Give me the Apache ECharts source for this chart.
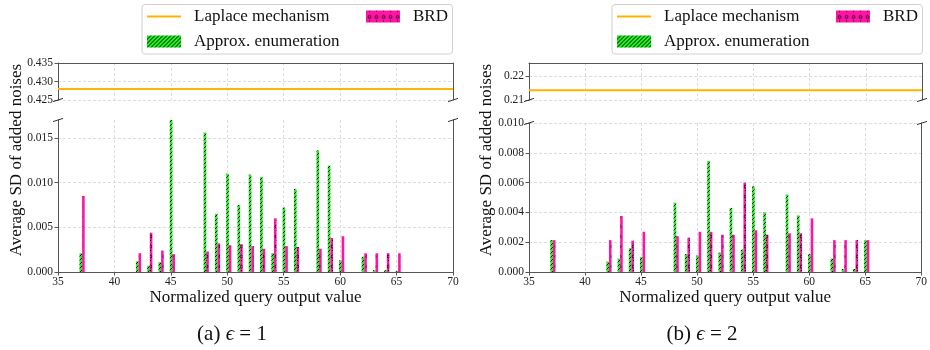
<!DOCTYPE html>
<html>
<head>
<meta charset="utf-8">
<script src="https://cdn.jsdelivr.net/npm/echarts@6/dist/echarts.min.js"></script>
<style>
  html, body { margin: 0; padding: 0; background: #fff; }
  #chart { width: 930px; height: 350px; }
</style>
</head>
<body>
<div id="chart"></div>
<script>
// Query output values (x positions of the bar pairs)
const queryValues = [37, 42, 43, 44, 45, 48, 49, 50, 51, 52, 53, 54, 55, 56, 58, 59, 60, 62, 63, 64, 65];

// epsilon = 1
const approxEps1 = [0.0021, 0.0012, 0.0007, 0.0011, 0.0170, 0.0156, 0.0065, 0.0110, 0.0075, 0.0109, 0.0106,
                    0.0021, 0.0072, 0.0093, 0.0136, 0.0119, 0.0013, 0.0017, 0.0002, 0.0002, 0.0001];
const brdEps1    = [0.0085, 0.0021, 0.0044, 0.0024, 0.0020, 0.0023, 0.0032, 0.0030, 0.0031, 0.0029, 0.0026,
                    0.0060, 0.0029, 0.0028, 0.0026, 0.0038, 0.0040, 0.0021, 0.0021, 0.0021, 0.0021];
const laplaceEps1 = 0.428;

// epsilon = 2
const approxEps2 = [0.00214, 0.0007, 0.0009, 0.0016, 0.0010, 0.00465, 0.0012, 0.0011, 0.00745, 0.0013, 0.0043,
                    0.0015, 0.00575, 0.0040, 0.0052, 0.0038, 0.0012, 0.0009, 0.0002, 0.0002, 0.00214];
const brdEps2    = [0.00214, 0.00214, 0.00375, 0.0021, 0.0027, 0.0024, 0.0023, 0.0027, 0.0027, 0.0025, 0.0025,
                    0.0060, 0.0028, 0.0025, 0.0026, 0.0026, 0.0036, 0.00214, 0.00214, 0.00214, 0.00214];
const laplaceEps2 = 0.214;

const xTicks = [35, 40, 45, 50, 55, 60, 65, 70];
const seriesNames = ['Laplace mechanism', 'Approx. enumeration', 'BRD'];
const captions = ['(a) {e|ϵ} = 1', '(b) {e|ϵ} = 2'];
const yTitle = 'Average SD of added noises';
const xTitle = 'Normalized query output value';

const FONT = '"Liberation Serif", "DejaVu Serif", serif';
const AXIS = '#555';
const GREEN = '#22ee22';
const PINK = '#ff14a6';
const ORANGE = '#ffb400';

// Hatched fills
function hatchFill() {
  const c = document.createElement('canvas');
  c.width = 4; c.height = 4;
  const g = c.getContext('2d');
  g.fillStyle = GREEN; g.fillRect(0, 0, 4, 4);
  g.strokeStyle = '#000'; g.lineWidth = 0.9;
  g.beginPath();
  g.moveTo(-1, 5); g.lineTo(5, -1);
  g.moveTo(-1, 1); g.lineTo(1, -1);
  g.moveTo(3, 5); g.lineTo(5, 3);
  g.stroke();
  return { image: c, repeat: 'repeat' };
}
function circleFill() {
  const c = document.createElement('canvas');
  c.width = 7; c.height = 10;
  const g = c.getContext('2d');
  g.fillStyle = PINK; g.fillRect(0, 0, 7, 10);
  g.strokeStyle = '#000'; g.lineWidth = 0.8;
  g.beginPath(); g.arc(3.5, 6.5, 1.4, 0, Math.PI * 2); g.stroke();
  g.fillStyle = '#000'; g.fillRect(3, 0, 1, 1);
  return { image: c, repeat: 'repeat' };
}
const greenFill = hatchFill();
const pinkFill = circleFill();

// Two panels per figure: upper (Laplace) and lower (bars)
// [min, max, interval, decimals, max is a tick]
const panels = [
  { left: 58, width: 395, upper: [0.425, 0.435, 0.005, 3, true], lower: [0, 0.017, 0.005, 3, false], lowerTop: 120,
    approx: approxEps1, brd: brdEps1, laplace: laplaceEps1, dx: 0 },
  { left: 529, width: 393, upper: [0.21, 0.2253, 0.01, 2, false], lower: [0, 0.010, 0.002, 3, true], lowerTop: 123,
    approx: approxEps2, brd: brdEps2, laplace: laplaceEps2, dx: 470 }
];
const UPPER_TOP = 63, UPPER_BOTTOM = 100, LOWER_BOTTOM = 272;

const grid = [], xAxis = [], yAxis = [], series = [], legend = [], title = [], graphic = [];

function barRenderer(offset, width, fill) {
  return function (params, api) {
    const x = api.value(0), v = api.value(1);
    const p0 = api.coord([x + offset - width / 2, v]);
    const p1 = api.coord([x + offset + width / 2, 0]);
    return { type: 'rect', shape: { x: p0[0], y: p0[1], width: p1[0] - p0[0], height: p1[1] - p0[1] },
             style: { fill: fill } };
  };
}

const splitLineStyle = { color: '#d4d4d4', type: [3, 2], width: 0.8 };
const axisLabel = { color: '#222', fontFamily: FONT, fontSize: 11.5 };

function leftYAxis(gridIndex, spec) {
  return { gridIndex, type: 'value', min: spec[0], max: spec[1], interval: spec[2],
    axisLine: { show: true, lineStyle: { color: AXIS } },
    axisTick: { show: true, length: 3.5, lineStyle: { color: AXIS } },
    axisLabel: Object.assign({ margin: 5, showMaxLabel: spec[4], formatter: v => v.toFixed(spec[3]) }, axisLabel),
    splitLine: { show: true, showMaxLine: spec[4], lineStyle: splitLineStyle } };
}
function rightSpine(gridIndex, spec) {
  return { gridIndex, type: 'value', position: 'right', min: spec[0], max: spec[1],
    axisLine: { show: true, lineStyle: { color: AXIS } }, axisTick: { show: false },
    axisLabel: { show: false }, splitLine: { show: false } };
}

panels.forEach((p, k) => {
  const gU = grid.length;
  grid.push({ left: p.left, width: p.width, top: UPPER_TOP, height: UPPER_BOTTOM - UPPER_TOP });
  grid.push({ left: p.left, width: p.width, top: p.lowerTop, height: LOWER_BOTTOM - p.lowerTop });
  const gL = gU + 1;

  // x axes
  const xU = xAxis.length;
  xAxis.push({ gridIndex: gU, type: 'value', position: 'top', min: 35, max: 70, interval: 5,
    axisLine: { show: true, onZero: false, lineStyle: { color: AXIS } }, axisTick: { show: false },
    axisLabel: { show: false }, splitLine: { show: true, lineStyle: splitLineStyle } });
  const xL = xAxis.length;
  xAxis.push({ gridIndex: gL, type: 'value', position: 'bottom', min: 35, max: 70, interval: 5,
    axisLine: { show: true, onZero: false, lineStyle: { color: AXIS } },
    axisTick: { show: true, length: 3.5, lineStyle: { color: AXIS } },
    axisLabel: Object.assign({ margin: 4, formatter: v => xTicks.includes(v) ? String(v) : '' }, axisLabel),
    splitLine: { show: true, lineStyle: splitLineStyle }, name: xTitle, nameLocation: 'middle', nameGap: 17,
    nameTextStyle: { fontFamily: FONT, fontSize: 17, color: '#111' } });

  // y axes (left with labels, right spine only)
  const yU = yAxis.length;
  yAxis.push(leftYAxis(gU, p.upper));
  yAxis.push(rightSpine(gU, p.upper));
  const yL = yAxis.length;
  yAxis.push(leftYAxis(gL, p.lower));
  yAxis.push(rightSpine(gL, p.lower));

  // Laplace mechanism: constant level across the whole range
  series.push({ name: seriesNames[0], type: 'line', xAxisIndex: xU, yAxisIndex: yU, symbol: 'none',
    silent: true, animation: false, lineStyle: { color: ORANGE, width: 2 }, itemStyle: { color: ORANGE },
    data: [[35, p.laplace], [70, p.laplace]] });

  // Bar pairs: approx. enumeration (left) and BRD (right)
  series.push({ name: seriesNames[1], type: 'custom', xAxisIndex: xL, yAxisIndex: yL, animation: false,
    clip: true, itemStyle: { color: greenFill },
    renderItem: barRenderer(0.02, 0.23, greenFill),
    data: queryValues.map((q, i) => [q, p.approx[i]]) });
  series.push({ name: seriesNames[2], type: 'custom', xAxisIndex: xL, yAxisIndex: yL, animation: false,
    clip: true, itemStyle: { color: pinkFill },
    renderItem: barRenderer(0.25, 0.23, pinkFill),
    data: queryValues.map((q, i) => [q, p.brd[i]]) });

  // Legend box and entries
  const legendText = { fontFamily: FONT, fontSize: 17, color: '#111', lineHeight: 17, padding: [0, 0, 0, 8] };
  graphic.push({ type: 'rect', z: 0, silent: true,
    shape: { x: 142 + p.dx, y: 4.5, width: 310.5, height: 49.5, r: 3 },
    style: { fill: 'rgba(255,255,255,0.9)', stroke: '#d0d0d0', lineWidth: 1 } });
  legend.push({ orient: 'vertical', left: 147 + p.dx, top: 8, itemWidth: 34, itemHeight: 12, itemGap: 8,
    padding: 0, selectedMode: false, symbolKeepAspect: true, textStyle: legendText,
    data: [ { name: seriesNames[0], icon: 'path://M0,0H34V2H0Z', itemStyle: { color: ORANGE, borderWidth: 0 },
              lineStyle: { width: 0 } },
            { name: seriesNames[1], icon: 'rect', itemStyle: { color: greenFill } } ] });
  legend.push({ orient: 'vertical', left: 366 + p.dx, top: 8, itemWidth: 34, itemHeight: 12, itemGap: 8,
    padding: 0, selectedMode: false, textStyle: legendText,
    data: [ { name: seriesNames[2], icon: 'rect', itemStyle: { color: pinkFill } } ] });

  // y title spanning both panels
  graphic.push({ type: 'text', rotation: Math.PI / 2, x: 16.5 + p.dx, y: 160, silent: true,
    style: { text: yTitle, font: '17px ' + FONT, fill: '#111', align: 'center', verticalAlign: 'middle' } });

  // Caption
  title.push({ text: captions[k], left: 232 + p.dx, top: 324, textAlign: 'center', padding: 0,
    textStyle: { fontFamily: FONT, fontSize: 21, fontWeight: 'normal', color: '#111',
      rich: { e: { fontFamily: FONT, fontSize: 21, fontStyle: 'italic', color: '#111' } } } });

  // Axis-break ticks
  const xl = p.left, xr = p.left + p.width;
  [[xl, UPPER_BOTTOM], [xr, UPPER_BOTTOM], [xl, p.lowerTop], [xr, p.lowerTop]].forEach(([bx, by]) => {
    graphic.push({ type: 'line', silent: true, z: 10,
      shape: { x1: bx - 5, y1: by + 1.6, x2: bx + 5, y2: by - 1.6 },
      style: { stroke: '#333', lineWidth: 1 } });
  });
});

const chart = echarts.init(document.getElementById('chart'), null, { renderer: 'canvas' });
chart.setOption({
  animation: false,
  backgroundColor: '#fff',
  textStyle: { fontFamily: FONT },
  title, grid, xAxis, yAxis, series, legend, graphic
});
</script>
</body>
</html>
